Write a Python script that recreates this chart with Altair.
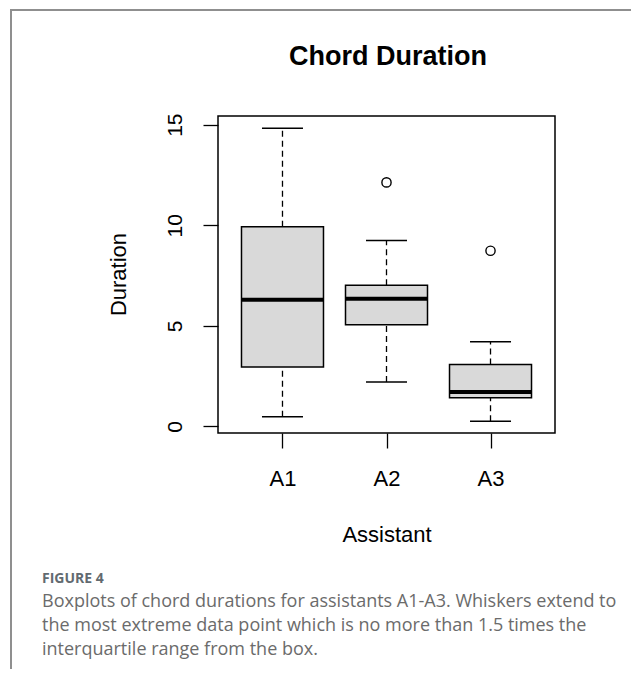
import altair as alt
import pandas as pd

assistants = ["A1", "A2", "A3"]
lower_whisker = [0.48, 2.21, 0.26]
q1 = [2.95, 5.05, 1.42]
median = [6.30, 6.34, 1.71]
q3 = [9.93, 7.01, 3.07]
upper_whisker = [14.82, 9.24, 4.21]
outlier_assistant = ["A2", "A3"]
outlier_value = [12.13, 8.73]
y_ticks = [0, 5, 10, 15]

title_text = "Chord Duration"
x_title = "Assistant"
y_title = "Duration"
figure_label = "FIGURE 4"
caption_lines = [
    "Boxplots of chord durations for assistants A1-A3. Whiskers extend to",
    "the most extreme data point which is no more than 1.5 times the",
    "interquartile range from the box.",
]

stats = pd.DataFrame({
    "assistant": assistants,
    "lower": lower_whisker,
    "q1": q1,
    "median": median,
    "q3": q3,
    "upper": upper_whisker,
})
outliers = pd.DataFrame({"assistant": outlier_assistant, "value": outlier_value})
one = pd.DataFrame({"k": [0]})

FONT = "Liberation Sans"

x_enc = alt.X(
    "assistant:N",
    scale=alt.Scale(type="point", domain=assistants, padding=0.62),
    axis=alt.Axis(
        title=x_title, labelAngle=0, labelFontSize=22, labelFont=FONT, labelColor="black",
        labelBaseline="middle", labelPadding=30, tickSize=15, tickWidth=1.3, tickColor="black",
        domain=False, grid=False, titleFont=FONT, titleFontSize=22, titleFontWeight="normal",
        titleColor="black", titleX=168.5, titleY=101, titleBaseline="middle", titleAlign="center",
    ),
)
y_scale = alt.Scale(domain=[-0.33, 15.43], nice=False, zero=False)
y_axis = alt.Axis(
    title=y_title, values=y_ticks, labelAngle=-90, labelAlign="center", labelBaseline="middle",
    labelPadding=28, labelFontSize=21, labelFont=FONT, labelColor="black",
    tickSize=15, tickWidth=1.3, tickColor="black", domain=False, grid=False,
    titleFont=FONT, titleFontSize=22, titleFontWeight="normal", titleColor="black",
    titleAngle=-90, titleX=-100, titleY=158, titleAlign="center", titleBaseline="middle",
)

base = alt.Chart(stats)

whisk_up = base.mark_rule(color="black", strokeWidth=1.3, strokeDash=[6, 4]).encode(
    x=x_enc, y=alt.Y("q3:Q", scale=y_scale, axis=y_axis), y2="upper:Q")
whisk_lo = base.mark_rule(color="black", strokeWidth=1.3, strokeDash=[6, 4]).encode(
    x=x_enc, y=alt.Y("lower:Q", scale=y_scale, axis=y_axis), y2="q1:Q")
cap_up = base.mark_tick(color="black", size=41, thickness=1.5, opacity=1).encode(
    x=x_enc, y=alt.Y("upper:Q", scale=y_scale, axis=y_axis))
cap_lo = base.mark_tick(color="black", size=41, thickness=1.5, opacity=1).encode(
    x=x_enc, y=alt.Y("lower:Q", scale=y_scale, axis=y_axis))
box = base.mark_bar(fill="#d9d9d9", stroke="black", strokeWidth=1.5, size=82, opacity=1).encode(
    x=x_enc, y=alt.Y("q1:Q", scale=y_scale, axis=y_axis), y2="q3:Q")
med = base.mark_tick(color="black", size=82, thickness=4, opacity=1).encode(
    x=x_enc, y=alt.Y("median:Q", scale=y_scale, axis=y_axis))
outl = alt.Chart(outliers).mark_point(shape="circle", filled=False, color="black",
                                       size=85, strokeWidth=1.4, opacity=1).encode(
    x=x_enc, y=alt.Y("value:Q", scale=y_scale, axis=y_axis))

frame_left = alt.Chart(one).mark_rule(color="#8f8f8f", strokeWidth=2).encode(
    x=alt.value(-207), y=alt.value(-107), y2=alt.value(563))
frame_top = alt.Chart(one).mark_rule(color="#8f8f8f", strokeWidth=2).encode(
    x=alt.value(-208), x2=alt.value(425), y=alt.value(-106))

title_mark = alt.Chart(one).mark_text(
    text=title_text, font=FONT, fontSize=27, fontWeight="bold", color="black",
    align="center", baseline="middle").encode(x=alt.value(170), y=alt.value(-59))

fig_label = alt.Chart(one).mark_text(
    text=figure_label, font="Open Sans", fontSize=14, fontWeight="bold", color="#626a70",
    align="left", baseline="middle").encode(x=alt.value(-176), y=alt.value(463))
caption = alt.Chart(one).mark_text(
    text="\n".join(caption_lines), lineBreak="\n", lineHeight=24, font="Open Sans",
    fontSize=18, color="#6b6b6b", align="left", baseline="middle").encode(
    x=alt.value(-176), y=alt.value(486))

chart = alt.layer(
    whisk_up, whisk_lo, cap_up, cap_lo, box, med, outl,
    frame_left, frame_top, title_mark, fig_label, caption,
).properties(
    width=337, height=317,
    autosize=alt.AutoSizeParams(type="none"),
    padding={"left": 210, "top": 108, "right": 76, "bottom": 236},
    background="white",
).configure_view(stroke="black", strokeWidth=1.5)

chart.save("out.html", embed_options={"renderer": "svg", "actions": False})
